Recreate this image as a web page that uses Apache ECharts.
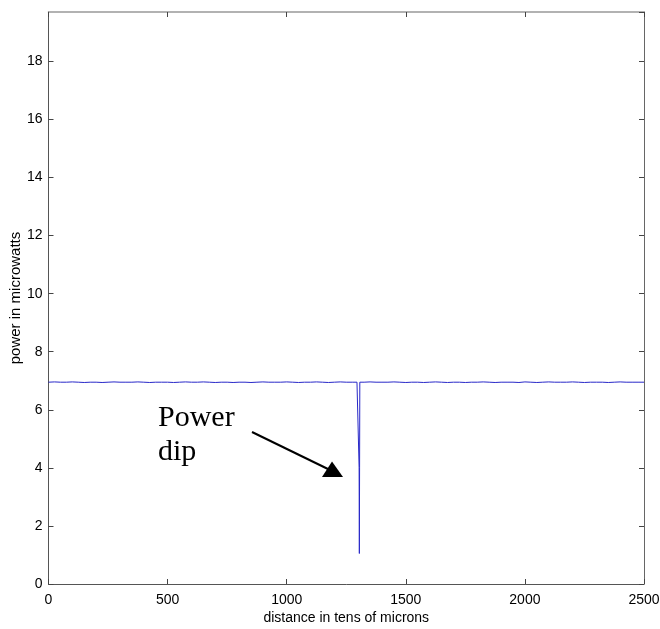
<!DOCTYPE html>
<html>
<head>
<meta charset="utf-8">
<script src="https://cdn.jsdelivr.net/npm/echarts@6/dist/echarts.min.js"></script>
<style>html,body{margin:0;padding:0;background:#fff;}#c{width:660px;height:629px;}</style>
</head>
<body>
<div id="c"></div>
<script>
// baseline samples before the dip, x = 0..1275 step 25
const leftStart = 0, step = 25;
const leftValues = [6.95,6.96,6.95,6.95,6.96,6.95,6.94,6.95,6.95,6.94,
6.95,6.96,6.95,6.95,6.95,6.96,6.95,6.94,6.95,6.95,
6.95,6.94,6.95,6.96,6.95,6.95,6.96,6.95,6.94,6.95,
6.95,6.94,6.95,6.95,6.94,6.95,6.96,6.95,6.95,6.95,
6.96,6.95,6.94,6.95,6.95,6.96,6.95,6.94,6.95,6.96,
6.95,6.95];
// the dip
const dipX = [1295, 1303, 1304, 1305, 1306, 1307];
const dipY = [6.95, 6.95, 4.0, 1.05, 4.0, 6.95];
// baseline samples after the dip, x = 1325..2500 step 25
const rightStart = 1325;
const rightValues = [6.95,6.96,6.95,6.95,6.95,6.96,6.95,6.94,6.95,6.95,
6.94,6.95,6.96,6.95,6.94,6.95,6.95,6.94,6.95,6.95,
6.96,6.95,6.94,6.95,6.95,6.95,6.94,6.96,6.95,6.94,
6.95,6.96,6.95,6.95,6.95,6.96,6.95,6.94,6.95,6.95,
6.95,6.94,6.95,6.96,6.95,6.95,6.95,6.95];
const xTicks = [0, 500, 1000, 1500, 2000, 2500];
const yTicks = [0, 2, 4, 6, 8, 10, 12, 14, 16, 18];

const data = [];
leftValues.forEach((v, i) => data.push([leftStart + i * step, v]));
dipX.forEach((x, i) => data.push([x, dipY[i]]));
rightValues.forEach((v, i) => data.push([rightStart + i * step, v]));

const chart = echarts.init(document.getElementById('c'), null, {renderer: 'canvas'});
const font = 'Liberation Sans, Arial, sans-serif';
const lab = {color: '#000', fontFamily: font, fontSize: 14};
chart.setOption({
  animation: false,
  backgroundColor: '#fff',
  grid: {left: 48.5, right: 16, top: 12, bottom: 45, containLabel: false, outerBoundsMode: 'none'},
  xAxis: [{
    type: 'value', min: 0, max: 2500, interval: 500, position: 'bottom',
    axisLine: {onZero: false, lineStyle: {color: '#555', width: 1}},
    axisTick: {inside: true, length: 5, lineStyle: {color: '#444'}},
    axisLabel: Object.assign({margin: 9, formatter: v => xTicks.includes(v) ? String(v) : ''}, lab),
    splitLine: {show: false},
    name: 'distance in tens of microns', nameLocation: 'middle', nameGap: 27, nameMoveOverlap: false,
    nameTextStyle: {color: '#000', fontFamily: font, fontSize: 14}
  }, {
    type: 'value', min: 0, max: 2500, interval: 500, position: 'top',
    axisLine: {onZero: false, lineStyle: {color: '#999', width: 1.5}},
    axisTick: {inside: true, length: 5, lineStyle: {color: '#444'}},
    axisLabel: {show: false}, splitLine: {show: false}
  }],
  yAxis: [{
    type: 'value', min: 0, max: 19.7, interval: 2, position: 'left',
    axisLine: {show: true, onZero: false, lineStyle: {color: '#555', width: 1}},
    axisTick: {show: true, inside: true, length: 5, lineStyle: {color: '#444'}},
    axisLabel: Object.assign({margin: 6, showMaxLabel: false, formatter: v => yTicks.includes(v) ? String(v) : ''}, lab),
    splitLine: {show: false},
    name: 'power in microwatts', nameLocation: 'middle', nameGap: 25, nameMoveOverlap: false,
    nameTextStyle: {color: '#000', fontFamily: font, fontSize: 15}
  }, {
    type: 'value', min: 0, max: 19.7, interval: 2, position: 'right',
    axisLine: {show: true, onZero: false, lineStyle: {color: '#666', width: 1}},
    axisTick: {show: true, inside: true, length: 5, lineStyle: {color: '#444'}},
    axisLabel: {show: false}, splitLine: {show: false}
  }],
  series: [{
    type: 'line', data: data, showSymbol: false, symbol: 'none',
    lineStyle: {color: '#2828c8', width: 1}
  }],
  graphic: [
    {type: 'text', left: 158, top: 401, style: {text: 'Power\ndip', font: '30px "Liberation Serif", "Times New Roman", serif', fill: '#000', lineHeight: 34}},
    {type: 'line', shape: {x1: 252, y1: 432, x2: 330, y2: 470}, style: {stroke: '#000', lineWidth: 2}},
    {type: 'polygon', shape: {points: [[322, 477], [332, 461.5], [343, 477]]}, style: {fill: '#000'}}
  ]
});
</script>
</body>
</html>
